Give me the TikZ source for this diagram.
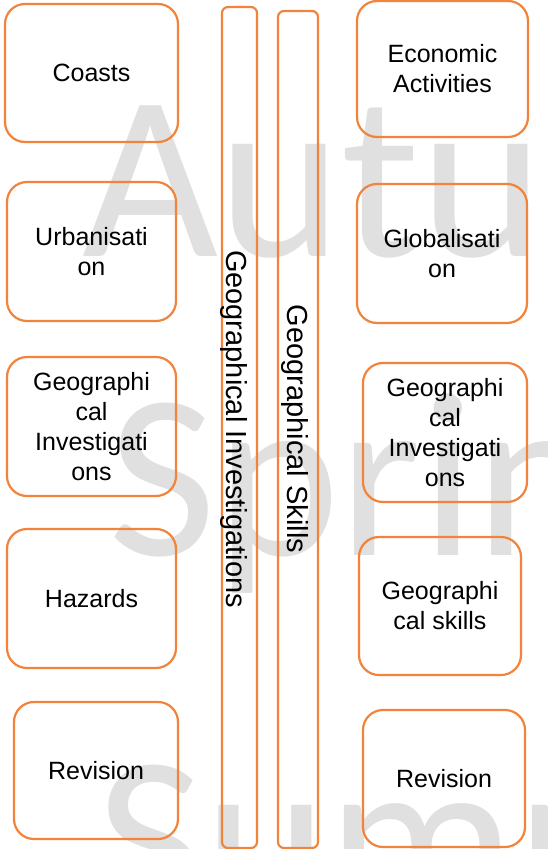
\documentclass[tikz,border=0pt]{standalone}
\usepackage{fontspec}
\setmainfont{Liberation Sans}
\newfontfamily\wmfont{Carlito}
\definecolor{bord}{RGB}{241,131,58}
\definecolor{wmgray}{RGB}{224,224,224}
\begin{document}
\begin{tikzpicture}[x=1pt,y=-1pt,
  box/.style={draw=bord, line width=2.2pt, rounded corners=20pt, inner sep=0pt,
    align=center, font=\fontsize{25}{30}\selectfont, text=black},
  bar/.style={draw=bord, line width=2.2pt, rounded corners=6pt, inner sep=0pt},
  bartext/.style={rotate=-90, anchor=base, inner sep=0pt, font=\fontsize{29}{34}\selectfont, text=black},
  wm/.style={anchor=base west, inner sep=0pt, text=wmgray, font=\wmfont\fontsize{235}{235}\selectfont}]
\useasboundingbox (0,0) rectangle (547,849);
\begin{scope}
\clip (0,0) rectangle (547,849);
\node[wm] (wmA) at (82,256) {Autumn};
\node[wm] (wmB) at (108,555) {Spring};
\node[wm] (wmC) at (96,917) {Summer};
\end{scope}
% left column
\node[box, minimum width=173pt, minimum height=138pt] (coasts) at (91.5,73) {Coasts};
\node[box, minimum width=169pt, minimum height=139pt] (urb) at (91.5,251.5) {Urbanisati\\on};
\node[box, minimum width=169pt, minimum height=139pt] (gil) at (91.5,426.5) {Geographi\\cal\\Investigati\\ons};
\node[box, minimum width=169pt, minimum height=139pt] (haz) at (91.5,598.5) {Hazards};
\node[box, minimum width=164pt, minimum height=137pt] (revl) at (96,770.5) {Revision};
% bars
\node[bar, minimum width=35pt, minimum height=841pt] (bar1) at (239.5,427.5) {};
\node[bar, minimum width=40pt, minimum height=837pt] (bar2) at (298,429.5) {};
\node[bartext] (t1) at (226,429) {Geographical Investigations};
\node[bartext] (t2) at (287,429) {Geographical Skills};
% right column
\node[box, minimum width=171pt, minimum height=136pt] (eco) at (442.5,69) {Economic\\Activities};
\node[box, minimum width=170pt, minimum height=139pt] (glob) at (442,253.5) {Globalisati\\on};
\node[box, minimum width=164pt, minimum height=139pt] (gir) at (445,432.5) {Geographi\\cal\\Investigati\\ons};
\node[box, minimum width=162pt, minimum height=138pt] (gs) at (440,606) {Geographi\\cal skills};
\node[box, minimum width=162pt, minimum height=137pt] (revr) at (444,778.5) {Revision};
\end{tikzpicture}
\end{document}
